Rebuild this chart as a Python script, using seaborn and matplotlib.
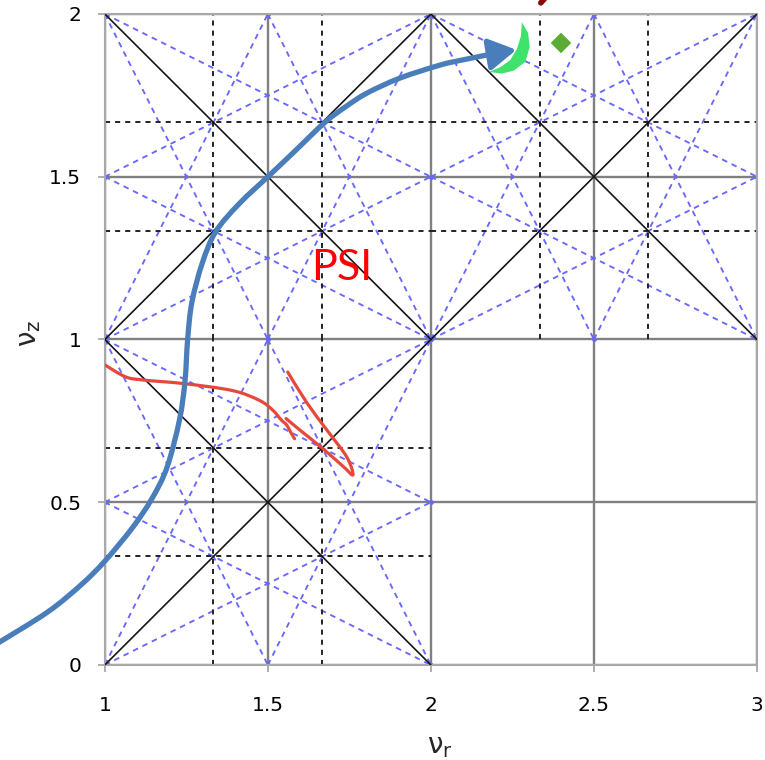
import numpy as np
import pandas as pd
import matplotlib
matplotlib.use("Agg")
import matplotlib.pyplot as plt
import seaborn as sns
from matplotlib.patches import Polygon, PathPatch
from matplotlib.path import Path

# tune diagram cells (lower-left corners) that carry resonance lines
cells = [(1, 0), (1, 1), (2, 1)]
# coefficients (a, b) of the resonance lines a*nu_r + b*nu_z = integer
order2_diag = [(1, 1), (1, -1)]
order3_skew = [(2, 1), (2, -1), (1, 2), (1, -2)]
order3_pure = [(3, 0), (0, 3)]

x_ticks = [1, 1.5, 2, 2.5, 3]
x_tick_labels = ["1", "1.5", "2", "2.5", "3"]
y_ticks = [0, 0.5, 1, 1.5, 2]
y_tick_labels = ["0", "0.5", "1", "1.5", "2"]

# blue arrow (nu_r, nu_z)
arrow_r = [0.62, 0.670, 0.825, 0.928, 1.0, 1.085, 1.145, 1.191, 1.229, 1.246,
           1.254, 1.267, 1.299, 1.340, 1.411, 1.5, 1.578, 1.675, 1.740, 1.804,
           1.905, 2.028, 2.098, 2.202]
arrow_z = [0.035, 0.066, 0.163, 0.247, 0.319, 0.422, 0.512, 0.608, 0.753, 0.873,
           1.0, 1.114, 1.235, 1.331, 1.416, 1.5, 1.574, 1.667, 1.716, 1.757,
           1.803, 1.843, 1.859, 1.880]
arrow_tip = (2.262, 1.890)

# red trajectory, two hand-drawn strokes
red1_r = [1.0, 1.062, 1.113, 1.247, 1.392, 1.474, 1.515, 1.541, 1.558, 1.570, 1.582]
red1_z = [0.922, 0.886, 0.876, 0.864, 0.843, 0.813, 0.783, 0.753, 0.737, 0.715, 0.695]
red2_r = [1.561, 1.620, 1.681, 1.742, 1.761, 1.730, 1.666, 1.598, 1.556]
red2_z = [0.900, 0.805, 0.722, 0.639, 0.584, 0.611, 0.667, 0.722, 0.757]

# green crescent outline (outer edge then inner edge)
crescent_r = [2.279, 2.298, 2.303, 2.290, 2.254, 2.218, 2.178,
              2.212, 2.243, 2.264, 2.276]
crescent_z = [1.975, 1.942, 1.899, 1.853, 1.826, 1.817, 1.822,
              1.836, 1.858, 1.893, 1.932]

diamond_r = [2.399]
diamond_z = [1.911]

psi_pos = (1.727, 1.22)


def cell_segment(a, b, c, x0, y0):
    pts = []
    if b != 0:
        for x in (x0, x0 + 1):
            y = (c - a * x) / b
            if y0 - 1e-9 <= y <= y0 + 1 + 1e-9:
                pts.append((round(x, 9), round(y, 9)))
    if a != 0:
        for y in (y0, y0 + 1):
            x = (c - b * y) / a
            if x0 - 1e-9 <= x <= x0 + 1 + 1e-9:
                pts.append((round(x, 9), round(y, 9)))
    pts = sorted(set(pts))
    if len(pts) < 2:
        return None
    return pts[0], pts[-1]


def draw_family(ax, coeffs, **kw):
    for x0, y0 in cells:
        for a, b in coeffs:
            vals = [a * x + b * y for x in (x0, x0 + 1) for y in (y0, y0 + 1)]
            for c in range(int(round(min(vals))) + 1, int(round(max(vals)))):
                seg = cell_segment(a, b, c, x0, y0)
                if seg is None:
                    continue
                (xa, ya), (xb, yb) = seg
                ax.plot([xa, xb], [ya, yb], **kw)


def smooth_path(xs, ys):
    # catmull-rom through the read points, drawn as bezier segments
    p = np.column_stack([xs, ys])
    n = len(p)
    verts = [p[0]]
    codes = [Path.MOVETO]
    for i in range(n - 1):
        a = p[max(i - 1, 0)]
        d = p[min(i + 2, n - 1)]
        verts += [p[i] + (p[i + 1] - a) / 6, p[i + 1] - (d - p[i]) / 6, p[i + 1]]
        codes += [Path.CURVE4] * 3
    return Path(verts, codes)


sns.set_theme(style="white")
plt.rcParams["font.family"] = ["DejaVu Sans"]

fig, ax = plt.subplots(figsize=(7.65, 7.6), dpi=100)
fig.subplots_adjust(left=0.137, right=0.9895, bottom=0.125, top=0.9816)

ax.set_xlim(1, 3)
ax.set_ylim(0, 2)
ax.set_xticks(x_ticks)
ax.set_xticklabels(x_tick_labels)
ax.set_yticks(y_ticks)
ax.set_yticklabels(y_tick_labels)
ax.grid(True, color="#808080", lw=1.7)
ax.set_axisbelow(True)
for s in ax.spines.values():
    s.set_color("#a8a8a8")
    s.set_linewidth(1.5)
ax.tick_params(axis="both", direction="out", length=5, width=1.3, color="#a8a8a8",
               labelsize=14.5, labelcolor="black")
ax.tick_params(axis="x", pad=17)
ax.tick_params(axis="y", pad=12)
ax.tick_params(left=True, bottom=True)

# resonance lines
draw_family(ax, order3_skew, color="#6868ff", lw=1.35, ls=(0, (3, 2.6)),
            marker="o", ms=2.2, zorder=2)
draw_family(ax, order3_pure, color="#222222", lw=1.4, ls=(0, (2.6, 2.6)), zorder=2)
draw_family(ax, order2_diag, color="#151515", lw=1.2, zorder=3)

# red trajectory
red_color = "#e8483a"
for rr, zz in [(red1_r, red1_z), (red2_r, red2_z)]:
    ax.add_patch(PathPatch(smooth_path(rr, zz), fill=False, edgecolor=red_color,
                           lw=2.3, capstyle="round", joinstyle="round", zorder=5))

# blue arrow
blue = "#4a7ebb"
ax.add_patch(PathPatch(smooth_path(arrow_r, arrow_z), fill=False, edgecolor=blue,
                       lw=3.8, joinstyle="round", zorder=6, clip_on=False))
ax.annotate("", xy=arrow_tip, xytext=(arrow_r[-1], arrow_z[-1]),
            arrowprops=dict(arrowstyle="-|>,head_length=0.55,head_width=0.32",
                            color=blue, lw=3.8, mutation_scale=30,
                            shrinkA=0, shrinkB=0),
            zorder=6, annotation_clip=False)

# green crescent and diamond
ax.add_patch(Polygon(np.column_stack([crescent_r, crescent_z]), closed=True,
                     facecolor="#3fe36b", edgecolor="none", zorder=7,
                     clip_on=False))
sns.scatterplot(x=diamond_r, y=diamond_z, marker="D", s=110, color="#5aac34",
                edgecolor="none", ax=ax, zorder=7)

# dark red mark cut at the top edge
ax.plot([2.337, 2.353], [2.034, 2.052], color="#8b0a0a", lw=4, clip_on=False,
        zorder=7)

ax.text(psi_pos[0], psi_pos[1], "PSI", color="#ff0000", fontsize=31,
        family=["Lato", "DejaVu Sans"], ha="center", va="center", zorder=8)

ax.set_xlabel("ν$_\\mathregular{r}$", fontsize=20)
ax.set_ylabel("ν$_\\mathregular{z}$", fontsize=20)
ax.xaxis.set_label_coords(0.514, -0.103)
ax.yaxis.set_label_coords(-0.095, 0.51)

fig.savefig("out.png", dpi=100)
